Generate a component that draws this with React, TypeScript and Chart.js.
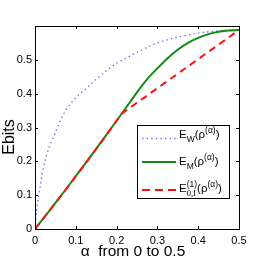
import React, { useEffect, useRef } from 'react';
import { Chart, registerables } from 'chart.js';

Chart.register(...registerables);

const alphaW = [0, 0.005, 0.01, 0.02, 0.03, 0.04, 0.05, 0.06, 0.075, 0.1, 0.125, 0.15, 0.175, 0.2, 0.225, 0.25, 0.275, 0.3, 0.35, 0.4, 0.45, 0.5];
const eW = [0, 0.065, 0.105, 0.178, 0.225, 0.258, 0.285, 0.315, 0.35, 0.388, 0.415, 0.443, 0.468, 0.49, 0.506, 0.522, 0.537, 0.55, 0.567, 0.579, 0.586, 0.589];

const alphaM = [0, 0.025, 0.05, 0.075, 0.1, 0.125, 0.15, 0.175, 0.2, 0.225, 0.25, 0.275, 0.3, 0.325, 0.35, 0.375, 0.4, 0.425, 0.45, 0.475, 0.5];
const eM = [0, 0.038, 0.077, 0.116, 0.156, 0.196, 0.237, 0.278, 0.32, 0.362, 0.404, 0.443, 0.475, 0.505, 0.53, 0.55, 0.565, 0.576, 0.583, 0.587, 0.588];

const alphaI = [0, 0.025, 0.05, 0.075, 0.1, 0.125, 0.15, 0.175, 0.2, 0.2125, 0.5];
const eI = [0, 0.038, 0.077, 0.116, 0.156, 0.196, 0.237, 0.278, 0.32, 0.341, 0.588];

const xTicks = [0, 0.1, 0.2, 0.3, 0.4, 0.5];
const yTicks = [0, 0.1, 0.2, 0.3, 0.4, 0.5];

const xTitle = 'α  from 0 to 0.5';
const yTitle = 'Ebits';

const BLUE = '#6f6fff';
const GREEN = '#138a13';
const RED = '#ff1010';
const SANS = '"Liberation Sans", Arial, sans-serif';
const SERIF = '"Liberation Serif", "Times New Roman", serif';

type Part = { t: string; size: number; dy: number; font?: string };

function drawParts(ctx: CanvasRenderingContext2D, x: number, y: number, parts: (Part | Part[])[]) {
  let cx = x;
  for (const p of parts) {
    const group = Array.isArray(p) ? p : [p];
    let w = 0;
    for (const g of group) {
      ctx.font = `${g.size}px ${g.font || SANS}`;
      ctx.fillText(g.t, cx, y + g.dy);
      w = Math.max(w, ctx.measureText(g.t).width);
    }
    cx += w;
  }
}

const decorPlugin = {
  id: 'decor',
  afterDatasetsDraw(chart: any) {
    const { ctx, chartArea, scales } = chart;
    const { left, right, top, bottom } = chartArea;
    const xs = scales.x;
    const ys = scales.y;
    ctx.save();
    ctx.strokeStyle = '#000';
    ctx.lineWidth = 1;
    ctx.strokeRect(left + 0.5, top + 0.5, right - left, bottom - top);
    ctx.beginPath();
    for (const v of xTicks) {
      const px = Math.round(xs.getPixelForValue(v)) + 0.5;
      ctx.moveTo(px, bottom);
      ctx.lineTo(px, bottom - 3);
      ctx.moveTo(px, top);
      ctx.lineTo(px, top + 3);
    }
    for (const v of yTicks) {
      const py = Math.round(ys.getPixelForValue(v)) + 0.5;
      ctx.moveTo(left, py);
      ctx.lineTo(left + 3, py);
      ctx.moveTo(right, py);
      ctx.lineTo(right - 3, py);
    }
    ctx.stroke();

    // axis titles
    ctx.fillStyle = '#000';
    ctx.textAlign = 'center';
    ctx.textBaseline = 'middle';
    ctx.font = `15.5px ${SANS}`;
    ctx.fillText(xTitle, 133, 252);
    ctx.save();
    ctx.translate(10, 137);
    ctx.rotate(-Math.PI / 2);
    ctx.font = `16px ${SANS}`;
    ctx.fillText(yTitle, 0, 0);
    ctx.restore();

    // legend
    const bx = 137, by = 125, bw = 92, bh = 73;
    ctx.fillStyle = '#fff';
    ctx.fillRect(bx, by, bw, bh);
    ctx.strokeStyle = '#000';
    ctx.lineWidth = 1;
    ctx.strokeRect(bx + 0.5, by + 0.5, bw, bh);

    const lx0 = 142, lx1 = 176;
    ctx.lineWidth = 1.4;
    ctx.strokeStyle = BLUE;
    ctx.setLineDash([1.4, 3.2]);
    ctx.beginPath();
    ctx.moveTo(lx0, 138.5);
    ctx.lineTo(lx1, 138.5);
    ctx.stroke();
    ctx.lineWidth = 2;
    ctx.strokeStyle = GREEN;
    ctx.setLineDash([]);
    ctx.beginPath();
    ctx.moveTo(lx0, 162);
    ctx.lineTo(lx1, 162);
    ctx.stroke();
    ctx.strokeStyle = RED;
    ctx.setLineDash([8, 5]);
    ctx.beginPath();
    ctx.moveTo(lx0, 190);
    ctx.lineTo(lx1, 190);
    ctx.stroke();
    ctx.setLineDash([]);

    ctx.fillStyle = '#000';
    ctx.textAlign = 'left';
    ctx.textBaseline = 'alphabetic';
    const tx = 179;
    const big = 11.5, small = 8.5;
    drawParts(ctx, tx, 138, [
      { t: 'E', size: big, dy: 0 },
      { t: 'W', size: small, dy: 3.5 },
      { t: '(ρ', size: big, dy: 0 },
      { t: '(α)', size: small, dy: -5 },
      { t: ')', size: big, dy: 0 },
    ]);
    drawParts(ctx, tx, 165, [
      { t: 'E', size: big, dy: 0 },
      { t: 'M', size: small, dy: 3.5 },
      { t: '(ρ', size: big, dy: 0 },
      { t: '(α)', size: small, dy: -5 },
      { t: ')', size: big, dy: 0 },
    ]);
    drawParts(ctx, tx, 192, [
      { t: 'E', size: big, dy: 0 },
      [
        { t: '(1)', size: small, dy: -5.5 },
        { t: '0,I', size: small, dy: 3.5, font: SERIF },
      ],
      { t: '(ρ', size: big, dy: 0 },
      { t: '(α)', size: small, dy: -5 },
      { t: ')', size: big, dy: 0 },
    ]);
    ctx.restore();
  },
};

export default function App() {
  const ref = useRef<HTMLCanvasElement | null>(null);
  useEffect(() => {
    if (!ref.current) return;
    const toXY = (xs: number[], ys: number[]) => xs.map((x, i) => ({ x, y: ys[i] }));
    const chart = new Chart(ref.current, {
      type: 'line',
      data: {
        datasets: [
          {
            label: 'E_W(ρ^(α))',
            data: toXY(alphaW, eW),
            borderColor: BLUE,
            borderWidth: 1.4,
            borderDash: [1.4, 3.2],
            pointRadius: 0,
            cubicInterpolationMode: 'monotone',
            order: 2,
          },
          {
            label: 'E_M(ρ^(α))',
            data: toXY(alphaM, eM),
            borderColor: GREEN,
            borderWidth: 2,
            pointRadius: 0,
            cubicInterpolationMode: 'monotone',
            order: 1,
          },
          {
            label: 'E_0,I^(1)(ρ^(α))',
            data: toXY(alphaI, eI),
            borderColor: RED,
            borderWidth: 2,
            borderDash: [7, 5],
            pointRadius: 0,
            tension: 0,
            order: 0,
          },
        ],
      },
      options: {
        animation: false,
        responsive: false,
        events: [],
        layout: { padding: { top: 26, right: 27, left: 0, bottom: 0 } },
        plugins: { legend: { display: false }, tooltip: { enabled: false }, title: { display: false } },
        scales: {
          x: {
            type: 'linear',
            min: 0,
            max: 0.5,
            grid: { display: false, drawTicks: false },
            border: { display: false },
            afterBuildTicks: (s: any) => { s.ticks = xTicks.map((v) => ({ value: v })); },
            afterFit: (s: any) => { s.height = 37; },
            ticks: {
              color: '#000',
              font: { family: SANS, size: 11 },
              padding: 5,
              maxRotation: 0,
              callback: (v: any) => String(v),
            },
          },
          y: {
            type: 'linear',
            min: 0,
            max: 0.6,
            grid: { display: false, drawTicks: false },
            border: { display: false },
            afterBuildTicks: (s: any) => { s.ticks = yTicks.map((v) => ({ value: v })); },
            afterFit: (s: any) => { s.width = 35; },
            ticks: {
              color: '#000',
              font: { family: SANS, size: 11 },
              padding: 3,
              callback: (v: any) => String(v),
            },
          },
        },
      },
      plugins: [decorPlugin],
    } as any);
    return () => chart.destroy();
  }, []);
  return (
    <div style={{ position: 'fixed', left: 0, top: 0, width: 266, height: 266, background: '#fff' }}>
      <canvas ref={ref} width={266} height={266} style={{ width: 266, height: 266 }} />
    </div>
  );
}
